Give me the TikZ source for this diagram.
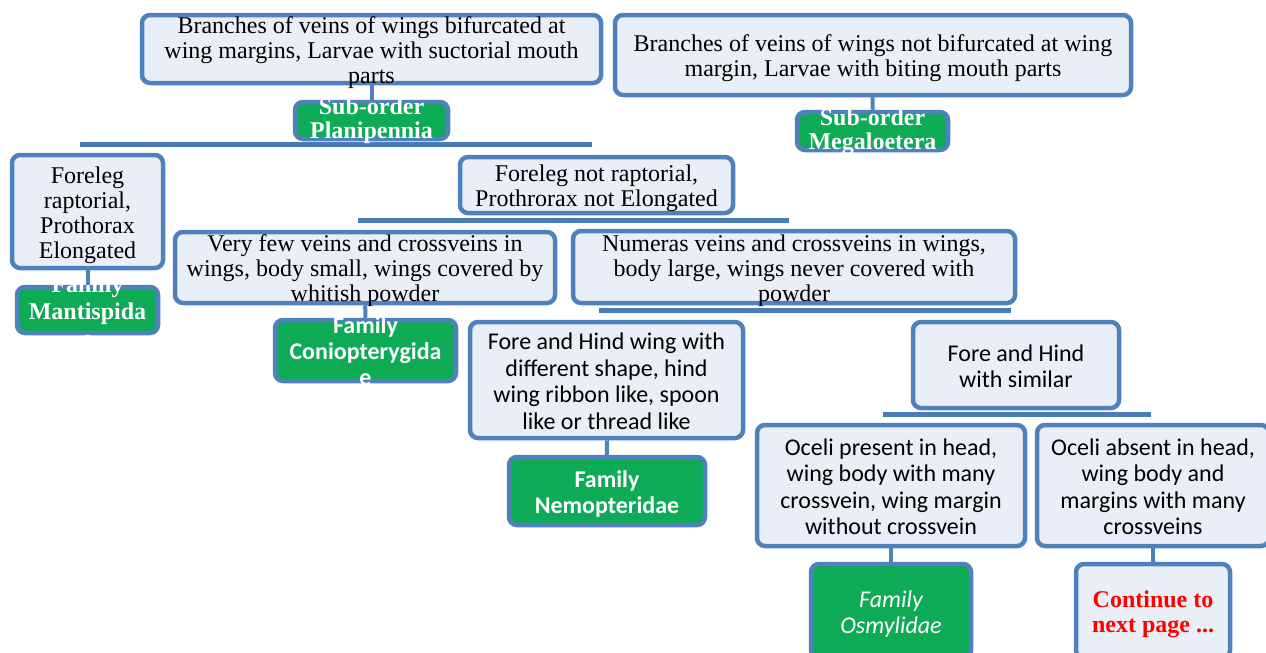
\documentclass[tikz,border=0pt]{standalone}
\usepackage{fontspec}
\setmainfont{Liberation Serif}
\newfontfamily\calib{Carlito}
\usepackage{tikz}

\definecolor{boxblue}{RGB}{79,129,189}
\definecolor{barblue}{RGB}{74,123,185}
\definecolor{boxfill}{RGB}{234,239,247}
\definecolor{boxgreen}{RGB}{14,171,86}

\newcommand{\boxlines}[2][-10.5pt]{\raisebox{#1}[0pt][0pt]{\begin{tabular}{@{}c@{}}#2\end{tabular}}}

\begin{document}
\begin{tikzpicture}[x=1pt,y=-1pt,
  pale/.style={draw=boxblue,line width=4.5pt,rounded corners=8pt,fill=boxfill,inner sep=0pt,
    font=\fontsize{24}{25}\selectfont},
  palesans/.style={pale,font=\calib\fontsize{24}{26.5}\selectfont},
  green/.style={pale,fill=boxgreen,text=white,font=\bfseries\fontsize{24}{24}\selectfont},
  greensans/.style={green,font=\calib\bfseries\fontsize{24}{26}\selectfont},
  link/.style={draw=boxblue,line width=4pt},
  bar/.style={draw=barblue,line width=5pt}]
\useasboundingbox (0,0) rectangle (1266,653);

% bars
\coordinate (planL) at (80,144.5);
\coordinate (planR) at (592,144.5);
\coordinate (flnrL) at (358,220);
\coordinate (flnrR) at (789,220);
\coordinate (manyL) at (599,310.5);
\coordinate (manyR) at (1011,310.5);
\coordinate (simL) at (883,414.5);
\coordinate (simR) at (1151,414.5);
\draw[bar] (planL) -- (planR);
\draw[bar] (flnrL) -- (flnrR);
\draw[bar] (manyL) -- (manyR);
\draw[bar] (simL) -- (simR);

\node[pale,minimum width=459pt,minimum height=68pt] (brA) at (371.5,49) {\boxlines{Branches of veins of wings bifurcated at\\wing margins, Larvae with suctorial mouth\\parts}};
\node[pale,minimum width=516pt,minimum height=80pt] (brB) at (873,55) {\boxlines{Branches of veins of wings not bifurcated at wing\\margin, Larvae with biting mouth parts}};
\node[green,minimum width=153pt,minimum height=37pt] (plan) at (371.5,120.5) {\boxlines[-7pt]{Sub-order\\Planipennia}};
\node[green,minimum width=151pt,minimum height=38pt] (mega) at (872.5,131) {\boxlines[-8pt]{Sub-order\\Megaloetera}};

\node[pale,minimum width=151pt,minimum height=113pt] (flr) at (87.5,211.5) {\boxlines{Foreleg\\raptorial,\\Prothorax\\Elongated}};
\node[green,minimum width=141pt,minimum height=46pt,font=\bfseries\fontsize{24}{27}\selectfont] (mant) at (87.5,310) {\boxlines{Family\\Mantispida\\e}};
\node[pale,minimum width=273pt,minimum height=56pt] (flnr) at (596.5,185) {\boxlines{Foreleg not raptorial,\\Prothrorax not Elongated}};

\node[pale,minimum width=380pt,minimum height=71pt] (few) at (365,267.5) {\boxlines{Very few veins and crossveins in\\wings, body small, wings covered by\\whitish powder}};
\node[pale,minimum width=442pt,minimum height=72pt] (many) at (794,267) {\boxlines{Numeras veins and crossveins in wings,\\body large, wings never covered with\\powder}};
\node[greensans,minimum width=181pt,minimum height=61pt] (conio) at (365.5,350.5) {\boxlines{Family\\Coniopterygida\\e}};

\node[palesans,minimum width=273pt,minimum height=116pt] (diff) at (606.5,380) {\boxlines{Fore and Hind wing with\\different shape, hind\\wing ribbon like, spoon\\like or thread like}};
\node[greensans,minimum width=196pt,minimum height=68pt] (nemo) at (607,491) {\boxlines{Family\\Nemopteridae}};
\node[palesans,minimum width=206pt,minimum height=86pt] (sim) at (1016,365) {\boxlines{Fore and Hind\\with similar}};

\node[palesans,minimum width=268pt,minimum height=121pt] (ocp) at (891,485.5) {\boxlines{Oceli present in head,\\wing body with many\\crossvein, wing margin\\without crossvein}};
\node[palesans,minimum width=232pt,minimum height=121pt] (oca) at (1153,485.5) {\boxlines{Oceli absent in head,\\wing body and\\margins with many\\crossveins}};
\node[greensans,minimum width=160pt,minimum height=94pt,font=\calib\itshape\fontsize{24}{26}\selectfont] (osmy) at (891,611) {\boxlines{Family\\Osmylidae}};
\node[pale,minimum width=154pt,minimum height=94pt,text=red,font=\bfseries\fontsize{24}{25}\selectfont] (cont) at (1153,611) {\boxlines{Continue to\\next page ...}};

\path
(brA) edge[link] (plan)
(brB) edge[link] (mega)
(flr) edge[link] (mant)
(few) edge[link] (conio)
(diff) edge[link] (nemo)
(ocp) edge[link] (osmy)
(oca) edge[link] (cont);
\end{tikzpicture}
\end{document}
